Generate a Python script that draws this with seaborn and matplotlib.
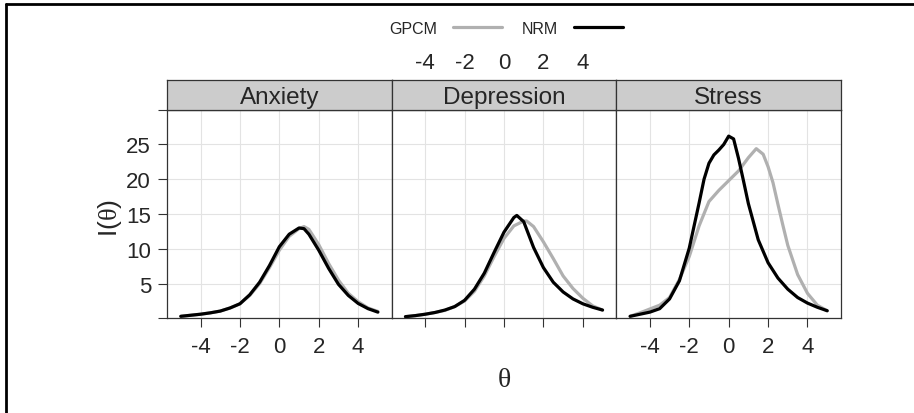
import numpy as np
import pandas as pd
import matplotlib
matplotlib.use("Agg")
import matplotlib.pyplot as plt
from matplotlib.lines import Line2D
import seaborn as sns

# ---------------- data ----------------
scales = ["Anxiety", "Depression", "Stress"]
models = ["GPCM", "NRM"]

theta_anx = [-5, -4.5, -4, -3.5, -3, -2.5, -2, -1.5, -1, -0.5, 0, 0.5, 1, 1.25, 1.5, 2, 2.5, 3, 3.5, 4, 4.5, 5]
anx_gpcm = [0.3, 0.45, 0.6, 0.8, 1.05, 1.5, 2.1, 3.3, 5.0, 7.3, 9.8, 11.8, 12.9, 13.2, 12.8, 10.6, 7.9, 5.5, 3.6, 2.4, 1.5, 1.0]
anx_nrm = [0.3, 0.45, 0.6, 0.8, 1.05, 1.5, 2.1, 3.4, 5.2, 7.6, 10.3, 12.1, 13.0, 12.9, 12.1, 9.8, 7.2, 4.9, 3.3, 2.15, 1.4, 0.9]

theta_dep_gpcm = [-5, -4.5, -4, -3.5, -3, -2.5, -2, -1.5, -1, -0.5, 0, 0.5, 1, 1.15, 1.5, 2, 2.5, 3, 3.5, 4, 4.5, 5]
dep_gpcm = [0.25, 0.4, 0.6, 0.85, 1.15, 1.7, 2.5, 3.9, 6.1, 8.9, 11.5, 13.3, 14.0, 14.0, 13.2, 11.0, 8.6, 6.1, 4.3, 2.9, 1.8, 1.2]
theta_dep_nrm = [-5, -4.5, -4, -3.5, -3, -2.5, -2, -1.5, -1, -0.5, 0, 0.5, 0.65, 1, 1.5, 2, 2.5, 3, 3.5, 4, 4.5, 5]
dep_nrm = [0.25, 0.4, 0.6, 0.85, 1.2, 1.7, 2.6, 4.2, 6.5, 9.5, 12.4, 14.5, 14.8, 13.9, 10.2, 7.3, 5.2, 3.8, 2.8, 2.1, 1.6, 1.2]

theta_str_gpcm = [-5, -4.5, -4, -3.5, -3, -2.5, -2, -1.5, -1, -0.5, 0, 0.5, 1, 1.4, 1.75, 2, 2.25, 2.5, 2.75, 3, 3.5, 4, 4.5, 5]
str_gpcm = [0.3, 0.8, 1.35, 1.9, 3.0, 5.6, 8.9, 13.3, 16.8, 18.4, 19.8, 21.2, 23.1, 24.4, 23.6, 21.8, 19.5, 16.4, 13.4, 10.5, 6.3, 3.6, 1.9, 1.1]
theta_str_nrm = [-5, -4.5, -4, -3.5, -3, -2.5, -2, -1.5, -1.25, -1, -0.75, -0.5, -0.25, 0, 0.25, 0.5, 0.75, 1, 1.5, 2, 2.5, 3, 3.5, 4, 4.5, 5]
str_nrm = [0.3, 0.6, 0.9, 1.4, 2.8, 5.4, 10.1, 16.6, 20.0, 22.3, 23.5, 24.2, 25.0, 26.2, 25.8, 23.0, 19.8, 16.5, 11.3, 8.0, 5.8, 4.2, 3.0, 2.2, 1.6, 1.1]

x_ticks = [-4, -2, 0, 2, 4]
y_ticks = [0, 5, 10, 15, 20, 25, 30]
y_tick_labels = ["", "5", "10", "15", "20", "25", ""]

frames = []
for sc, th, g, n, th_n in [
    ("Anxiety", theta_anx, anx_gpcm, anx_nrm, theta_anx),
    ("Depression", theta_dep_gpcm, dep_gpcm, dep_nrm, theta_dep_nrm),
    ("Stress", theta_str_gpcm, str_gpcm, str_nrm, theta_str_nrm),
]:
    frames.append(pd.DataFrame({"scale": sc, "model": "GPCM", "theta": th, "info": g}))
    frames.append(pd.DataFrame({"scale": sc, "model": "NRM", "theta": th_n, "info": n}))
df = pd.concat(frames, ignore_index=True)

# ---------------- style ----------------
sns.set_style("white")
plt.rcParams["font.family"] = ["Liberation Sans", "DejaVu Sans"]
plt.rcParams["mathtext.fontset"] = "custom"
plt.rcParams["mathtext.rm"] = "Liberation Serif"
plt.rcParams["mathtext.it"] = "Liberation Serif"
plt.rcParams["lines.solid_joinstyle"] = "round"

palette = {"GPCM": "#b0b0b0", "NRM": "#000000"}
edge = "#333333"

W, H = 914, 414
fig = plt.figure(figsize=(W / 100, H / 100), dpi=100)
fig.patch.set_facecolor("white")


def fx(px):
    return px / W


def fy(py):
    return 1 - py / H


panel_left = 167
panel_w = (841 - 167) / 3
p_top, p_bot, s_top = 110.7, 319.4, 81

for i, sc in enumerate(scales):
    ax = fig.add_axes([fx(panel_left + i * panel_w), fy(p_bot), panel_w / W, (p_bot - p_top) / H])
    sub = df[df["scale"] == sc]
    sns.lineplot(data=sub, x="theta", y="info", hue="model", hue_order=models,
                 palette=palette, estimator=None, sort=False, lw=2.3, ax=ax, legend=False)
    ax.set_xlim(-5.7, 5.7)
    ax.set_ylim(0, 30)
    ax.set_xticks(x_ticks)
    ax.set_yticks(y_ticks)
    ax.grid(True, color="#e3e3e3", lw=0.8)
    ax.set_axisbelow(True)
    ax.set_xlabel("")
    ax.set_ylabel("")
    for sp in ax.spines.values():
        sp.set_color(edge)
        sp.set_linewidth(0.9)
    ax.tick_params(axis="x", bottom=True, direction="out", length=6.5, width=0.8, color=edge,
                   labelsize=16, pad=6)
    if i == 1:
        ax.set_xticklabels([])
    else:
        ax.set_xticklabels([str(t) for t in x_ticks])
    if i == 0:
        ax.set_yticklabels(y_tick_labels)
        ax.tick_params(axis="y", left=True, direction="out", length=6.5, width=0.8, color=edge,
                       labelsize=16, pad=5)
    else:
        ax.tick_params(axis="y", left=False, labelleft=False)

    # strip
    sa = fig.add_axes([fx(panel_left + i * panel_w), fy(p_top), panel_w / W, (p_top - s_top) / H])
    sa.set_facecolor("#cccccc")
    sa.set_xlim(-5.7, 5.7)
    sa.set_ylim(0, 1)
    sa.set_yticks([])
    for sp in sa.spines.values():
        sp.set_color(edge)
        sp.set_linewidth(0.9)
    sa.text(0, 0.42, sc, ha="center", va="center", fontsize=17.5)
    if i == 1:
        sa.xaxis.set_ticks_position("top")
        sa.set_xticks(x_ticks)
        sa.set_xticklabels([str(t) for t in x_ticks])
        sa.tick_params(axis="x", top=True, bottom=False, length=0, labelsize=16, pad=5)
    else:
        sa.set_xticks([])

# axis labels
fig.text(fx(110), fy(218), r"I($\mathrm{\theta}$)", rotation=90, fontsize=19,
         ha="center", va="center")
fig.text(fx(504.5), fy(380), r"$\mathrm{\theta}$", fontsize=20, ha="center", va="center")

# legend
handles = [Line2D([], [], color=palette[m], lw=2.3) for m in models]
fig.legend(handles, models, loc="center", bbox_to_anchor=(fx(506), fy(29)), ncol=2,
           markerfirst=False, frameon=False, fontsize=11.5, handlelength=3.1,
           handletextpad=1.0, columnspacing=1.2, borderaxespad=0, borderpad=0)

# outer frame (top and left)
fig.add_artist(Line2D([fx(6), 1], [fy(5), fy(5)], transform=fig.transFigure, color="black", lw=2))
fig.add_artist(Line2D([fx(6), fx(6)], [fy(5), 0], transform=fig.transFigure, color="black", lw=2))

fig.savefig("out.png", dpi=100)
